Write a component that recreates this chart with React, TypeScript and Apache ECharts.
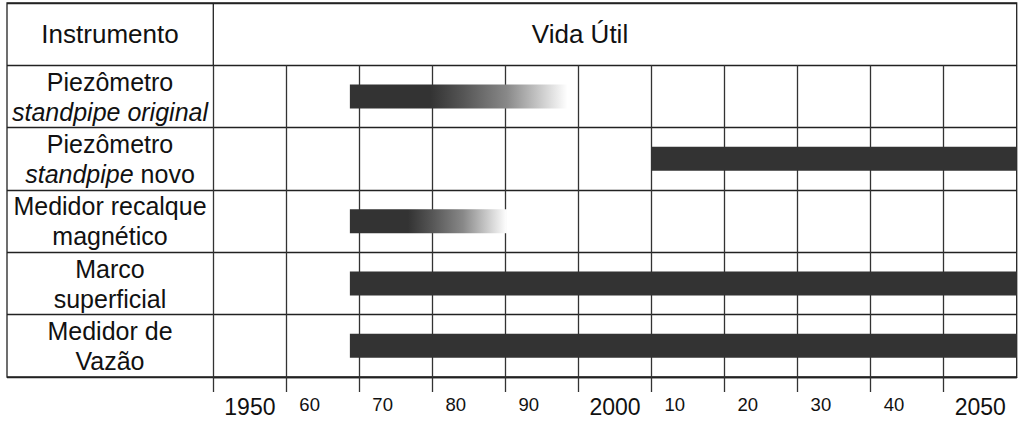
import React, { useEffect, useRef } from "react";
import * as echarts from "echarts";

// ---- data ----
const instruments = [
  "Piezômetro\nstandpipe original",
  "Piezômetro\nstandpipe novo",
  "Medidor recalque\nmagnético",
  "Marco\nsuperficial",
  "Medidor de\nVazão",
];
const startYear = [1968.7, 2010, 1968.7, 1968.7, 1968.7];
const endYear = [1998.5, 2060, 1990.2, 2060, 2060];
const fades = [true, false, true, false, false];
const decadeTicks = [1950, 1960, 1970, 1980, 1990, 2000, 2010, 2020, 2030, 2040, 2050];
const tickLabels = ["1950", "60", "70", "80", "90", "2000", "10", "20", "30", "40", "2050"];
const headerLeft = "Instrumento";
const headerRight = "Vida Útil";

const FONT = "'Liberation Sans', Arial, sans-serif";
const LINE = "#222";
const BAR = "#333";

export default function App() {
  const ref = useRef<HTMLDivElement>(null);
  useEffect(() => {
    if (!ref.current) return;
    const chart = echarts.init(ref.current, null, { renderer: "svg" });
    const fadeStops = [
      { offset: 0, color: BAR },
      { offset: 0.37, color: BAR },
      { offset: 0.52, color: "#555" },
      { offset: 0.72, color: "#888" },
      { offset: 0.88, color: "#ccc" },
      { offset: 1, color: "#fff" },
    ];
    const top = 3;
    const bottom = 52;
    const rowH = (429 - bottom - top) / (instruments.length + 1);
    chart.setOption({
      animation: false,
      backgroundColor: "#fff",
      grid: [
        { left: 7, right: 7.3, top, bottom, show: true, borderColor: LINE, borderWidth: 1.3, backgroundColor: "transparent" },
        { left: 213.3, right: 7.3, top: top + rowH, bottom, show: false },
      ],
      xAxis: [
        { gridIndex: 0, type: "value", show: false, min: 0, max: 10 },
        {
          gridIndex: 1,
          type: "value",
          min: 1950,
          max: 2060,
          interval: 10,
          axisLine: { show: true, lineStyle: { color: LINE, width: 1.3 } },
          axisTick: { show: true, length: 15, customValues: decadeTicks, lineStyle: { color: "#333", width: 1.3 } },
          splitLine: { show: true, lineStyle: { color: "#333", width: 1.3 } },
          axisLabel: {
            customValues: decadeTicks,
            showMinLabel: true,
            showMaxLabel: true,
            hideOverlap: false,
            margin: 18,
            align: "left",
            color: "#111",
            fontFamily: FONT,
            formatter: (v: number) => {
              const i = decadeTicks.indexOf(v);
              if (i < 0) return "";
              const t = tickLabels[i];
              return t.length === 4 ? `{big|${t}}` : `{small|${t}}`;
            },
            rich: {
              big: { fontSize: 23, lineHeight: 23, fontFamily: FONT, color: "#111", padding: [0, 0, 0, 11] },
              small: { fontSize: 18.5, lineHeight: 18.5, fontFamily: FONT, color: "#111", padding: [0, 0, 0, 13] },
            },
          },
        },
      ],
      yAxis: [
        {
          gridIndex: 0,
          type: "category",
          inverse: true,
          data: [headerLeft, ...instruments],
          axisLine: { show: false },
          axisTick: { show: false },
          axisLabel: { show: false },
          splitLine: { show: true, lineStyle: { color: LINE, width: 1.3 } },
        },
        {
          gridIndex: 1,
          type: "category",
          inverse: true,
          data: instruments,
          axisLine: { show: false },
          axisTick: { show: false },
          splitLine: { show: false },
          axisLabel: {
            margin: 103.3,
            align: "center",
            color: "#111",
            fontSize: 25,
            lineHeight: 30,
            fontFamily: FONT,
            formatter: (v: string) => {
              if (v.includes("standpipe original")) return v.replace("standpipe original", "{i|standpipe original}");
              return v.replace("standpipe", "{i|standpipe}");
            },
            rich: {
              i: { fontStyle: "italic", fontSize: 25, lineHeight: 30, fontFamily: FONT, color: "#111" },
            },
          },
        },
      ],
      series: [
        {
          type: "custom",
          xAxisIndex: 1,
          yAxisIndex: 1,
          encode: { x: [1, 2], y: 0 },
          data: instruments.map((_, i) => [i, startYear[i], endYear[i], fades[i] ? 1 : 0]),
          renderItem: (params: any, api: any) => {
            const cat = api.value(0);
            const p0 = api.coord([api.value(1), cat]);
            const p1 = api.coord([api.value(2), cat]);
            const h = 24;
            const fill = api.value(3)
              ? new echarts.graphic.LinearGradient(0, 0, 1, 0, fadeStops)
              : BAR;
            return {
              type: "rect",
              shape: { x: p0[0], y: p0[1] - h / 2, width: p1[0] - p0[0], height: h },
              style: { fill },
            };
          },
        },
      ],
      graphic: [
        { type: "line", shape: { x1: 213.3, y1: top, x2: 213.3, y2: top + rowH }, style: { stroke: LINE, lineWidth: 1.3 } },
        {
          type: "text",
          x: 110,
          y: top + rowH / 2,
          style: { text: headerLeft, fontSize: 26, fontFamily: FONT, fill: "#111", align: "center", verticalAlign: "middle" },
        },
        {
          type: "text",
          x: 580,
          y: top + rowH / 2,
          style: { text: headerRight, fontSize: 26, fontFamily: FONT, fill: "#111", align: "center", verticalAlign: "middle" },
        },
      ],
    });
    return () => chart.dispose();
  }, []);
  return <div ref={ref} style={{ position: "absolute", left: 0, top: 0, width: 1024, height: 429 }} />;
}
